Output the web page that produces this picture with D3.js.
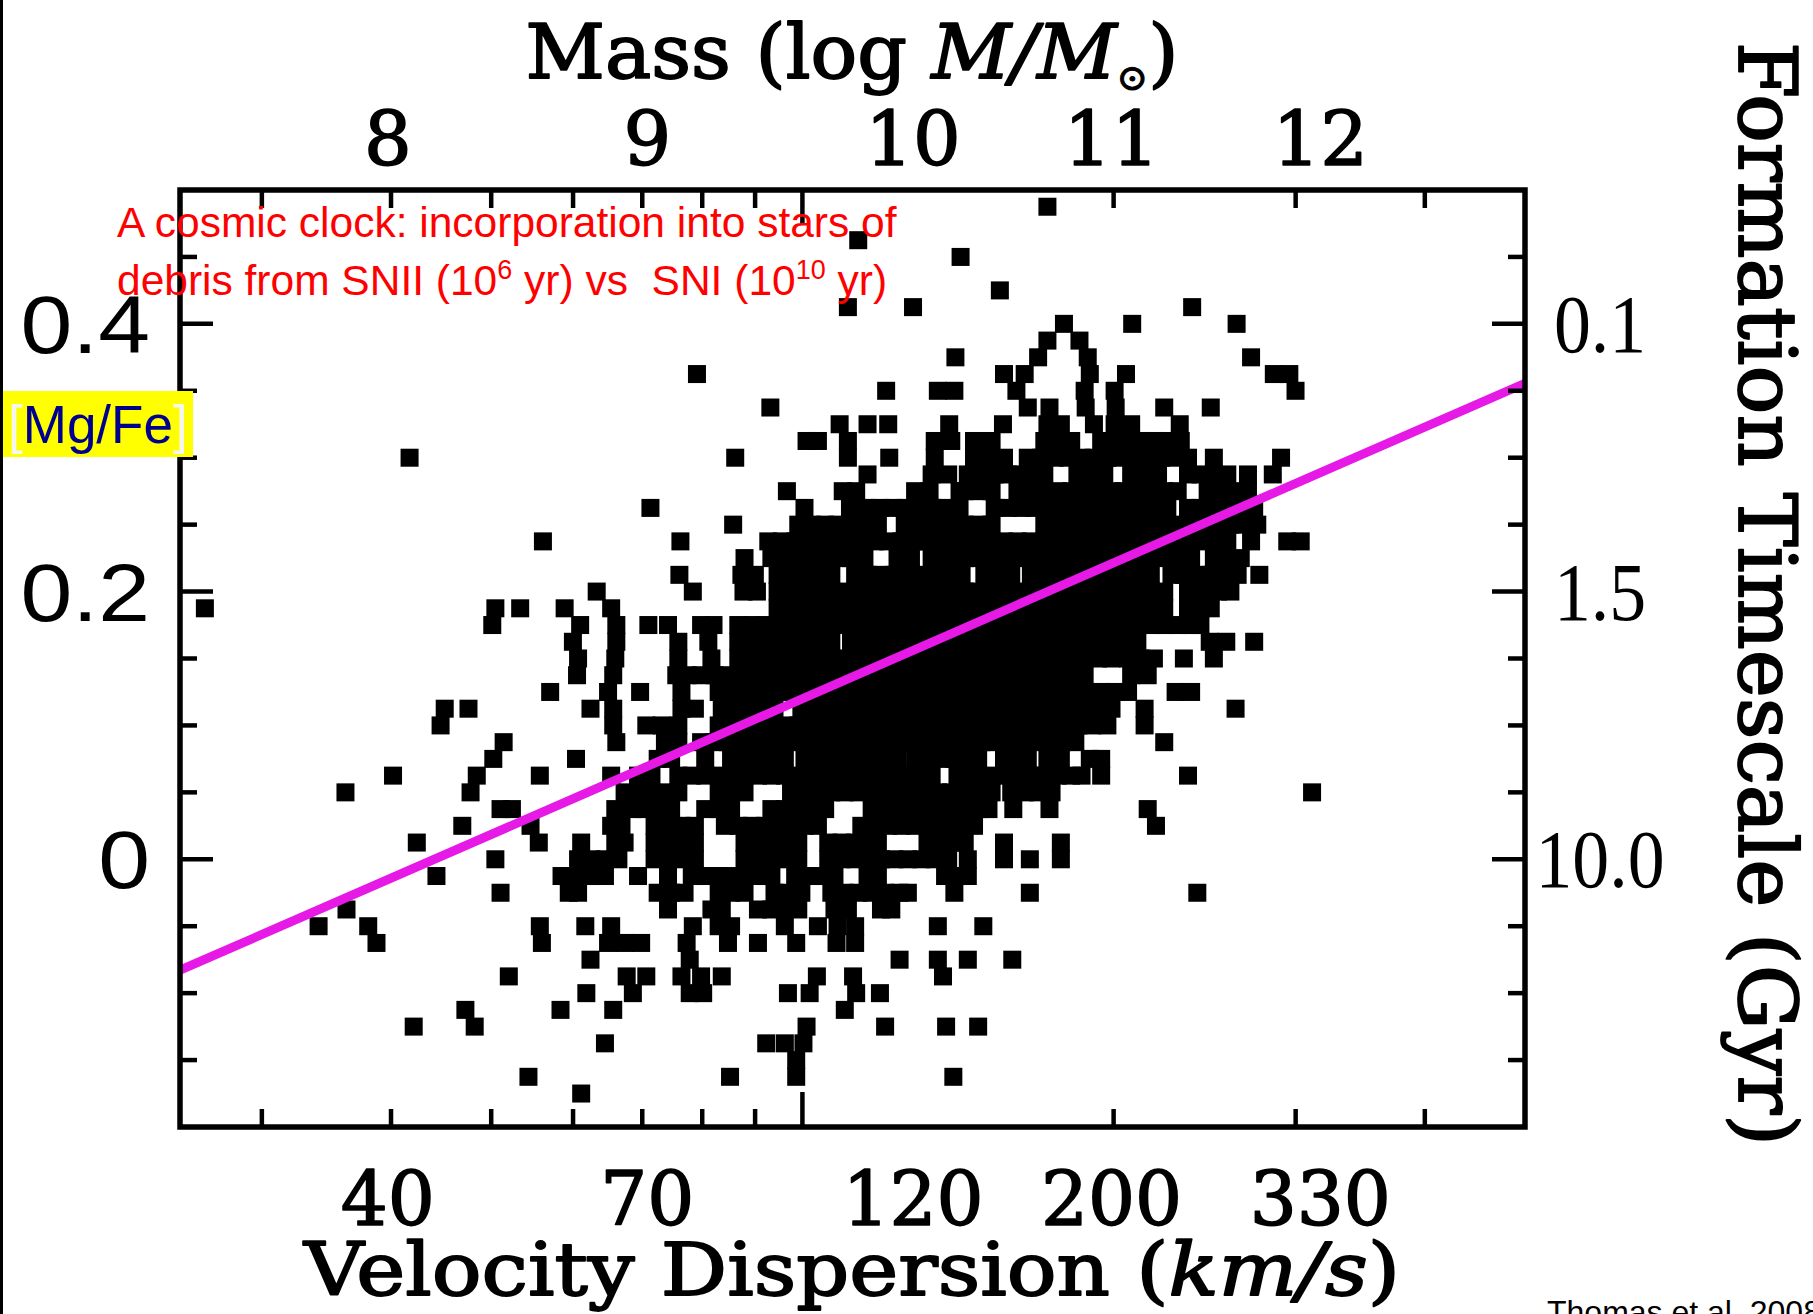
<!DOCTYPE html>
<html>
<head>
<meta charset="utf-8">
<script src="https://cdn.jsdelivr.net/npm/d3@7"></script>
<style>
  html, body { margin: 0; padding: 0; background: #fff; }
  svg { display: block; }
</style>
</head>
<body>
<svg id="chart" width="1813" height="1314"></svg>
<script>
// [Mg/Fe] level of each row of galaxies (the measurements come in 0.0125 steps)
const rowMgFe = [
  0.4875, 0.4625, 0.45, 0.425, 0.4125, 0.4, 0.3875, 0.375, 0.3625, 0.35,
  0.3375, 0.325, 0.3125, 0.3, 0.2875, 0.275, 0.2625, 0.25, 0.2375, 0.225,
  0.2125, 0.2, 0.1875, 0.175, 0.1625, 0.15, 0.1375, 0.125, 0.1125, 0.1,
  0.0875, 0.075, 0.0625, 0.05, 0.0375, 0.025, 0.0125, 0.0, -0.0125, -0.025,
  -0.0375, -0.05, -0.0625, -0.075, -0.0875, -0.1, -0.1125, -0.125, -0.1375, -0.15,
  -0.1625, -0.175
];

// log10 of the velocity dispersion (km/s) of every galaxy on that row
const rowLogSigma = [
  [2.237],
  [2.054],
  [2.153],
  [2.191],
  [2.044, 2.107, 2.377],
  [2.253, 2.319, 2.420],
  [2.237, 2.268],
  [2.148, 2.228, 2.276, 2.434],
  [1.898, 2.195, 2.215, 2.278, 2.313, 2.456, 2.471],
  [2.081, 2.131, 2.147, 2.207, 2.273, 2.302, 2.477],
  [1.969, 2.218, 2.239, 2.274, 2.303, 2.350, 2.395],
  [2.036, 2.063, 2.083, 2.142, 2.194, 2.237, 2.250, 2.282, 2.302, 2.318, 2.365],
  [2.004, 2.015, 2.044, 2.128, 2.144, 2.166, 2.183, 2.234, 2.247, 2.260, 2.289, 2.302, 2.314, 2.327, 2.340, 2.353, 2.366],
  [1.620, 1.935, 2.044, 2.084, 2.128, 2.166, 2.181, 2.195, 2.218, 2.231, 2.244, 2.257, 2.270, 2.282, 2.295, 2.308, 2.321, 2.334, 2.347, 2.360, 2.373, 2.398, 2.463],
  [2.063, 2.125, 2.141, 2.160, 2.173, 2.186, 2.199, 2.212, 2.224, 2.234, 2.266, 2.279, 2.292, 2.318, 2.331, 2.344, 2.373, 2.385, 2.398, 2.411, 2.431, 2.455],
  [1.985, 2.039, 2.052, 2.109, 2.123, 2.152, 2.157, 2.170, 2.183, 2.208, 2.221, 2.234, 2.247, 2.260, 2.273, 2.286, 2.299, 2.311, 2.324, 2.337, 2.350, 2.363, 2.392, 2.405, 2.418, 2.431],
  [1.853, 2.002, 2.046, 2.062, 2.075, 2.088, 2.100, 2.113, 2.126, 2.139, 2.152, 2.186, 2.199, 2.212, 2.224, 2.237, 2.250, 2.263, 2.276, 2.289, 2.302, 2.315, 2.327, 2.340, 2.353, 2.373, 2.385, 2.398, 2.411, 2.424, 2.437],
  [1.933, 1.996, 2.009, 2.022, 2.034, 2.047, 2.060, 2.073, 2.099, 2.112, 2.125, 2.138, 2.150, 2.157, 2.170, 2.183, 2.234, 2.247, 2.260, 2.273, 2.286, 2.299, 2.311, 2.324, 2.337, 2.350, 2.363, 2.376, 2.389, 2.402, 2.414, 2.427, 2.440],
  [1.749, 1.882, 1.967, 1.980, 1.993, 2.005, 2.018, 2.031, 2.044, 2.057, 2.070, 2.083, 2.096, 2.109, 2.121, 2.134, 2.147, 2.157, 2.170, 2.183, 2.195, 2.208, 2.221, 2.234, 2.247, 2.260, 2.273, 2.286, 2.299, 2.311, 2.324, 2.337, 2.350, 2.363, 2.376, 2.389, 2.402, 2.411, 2.434, 2.469, 2.482],
  [1.944, 1.970, 1.983, 1.996, 2.009, 2.022, 2.034, 2.047, 2.060, 2.092, 2.105, 2.125, 2.138, 2.150, 2.157, 2.170, 2.183, 2.195, 2.208, 2.221, 2.234, 2.247, 2.260, 2.273, 2.286, 2.299, 2.311, 2.324, 2.337, 2.350, 2.363, 2.376, 2.398, 2.411, 2.424],
  [1.881, 1.941, 1.954, 1.976, 1.989, 2.002, 2.015, 2.028, 2.051, 2.063, 2.076, 2.089, 2.102, 2.115, 2.128, 2.141, 2.154, 2.176, 2.189, 2.202, 2.221, 2.234, 2.247, 2.260, 2.273, 2.286, 2.299, 2.311, 2.324, 2.337, 2.357, 2.369, 2.382, 2.395, 2.408, 2.421, 2.442],
  [1.801, 1.894, 1.943, 1.956, 1.976, 1.989, 2.002, 2.015, 2.028, 2.041, 2.054, 2.067, 2.080, 2.092, 2.105, 2.118, 2.131, 2.144, 2.157, 2.170, 2.183, 2.195, 2.208, 2.221, 2.234, 2.247, 2.260, 2.273, 2.286, 2.299, 2.311, 2.324, 2.337, 2.350, 2.373, 2.385, 2.402, 2.414],
  [1.422, 1.703, 1.727, 1.770, 1.815, 1.976, 1.989, 2.002, 2.015, 2.028, 2.041, 2.054, 2.067, 2.080, 2.092, 2.105, 2.118, 2.131, 2.144, 2.157, 2.170, 2.183, 2.195, 2.208, 2.221, 2.234, 2.247, 2.260, 2.273, 2.286, 2.299, 2.311, 2.324, 2.337, 2.350, 2.373, 2.385, 2.395],
  [1.700, 1.785, 1.820, 1.851, 1.870, 1.902, 1.914, 1.938, 1.951, 1.964, 1.976, 1.989, 2.002, 2.015, 2.028, 2.041, 2.054, 2.067, 2.080, 2.092, 2.105, 2.118, 2.131, 2.144, 2.157, 2.170, 2.183, 2.195, 2.208, 2.221, 2.234, 2.247, 2.260, 2.273, 2.286, 2.299, 2.311, 2.324, 2.337, 2.350, 2.363, 2.376, 2.385],
  [1.778, 1.820, 1.880, 1.909, 1.938, 1.951, 1.964, 1.976, 1.989, 2.002, 2.015, 2.028, 2.047, 2.060, 2.073, 2.086, 2.099, 2.112, 2.125, 2.138, 2.150, 2.157, 2.170, 2.183, 2.195, 2.208, 2.221, 2.234, 2.247, 2.260, 2.273, 2.286, 2.299, 2.311, 2.324, 2.394, 2.410, 2.437],
  [1.783, 1.819, 1.880, 1.912, 1.938, 1.951, 1.964, 1.976, 1.989, 2.002, 2.015, 2.028, 2.041, 2.054, 2.067, 2.080, 2.092, 2.105, 2.118, 2.131, 2.144, 2.157, 2.170, 2.183, 2.195, 2.208, 2.221, 2.234, 2.247, 2.260, 2.273, 2.286, 2.299, 2.315, 2.327, 2.340, 2.369, 2.398],
  [1.782, 1.817, 1.878, 1.889, 1.902, 1.915, 1.928, 1.941, 1.954, 1.967, 1.980, 1.993, 2.005, 2.018, 2.031, 2.044, 2.057, 2.070, 2.083, 2.096, 2.109, 2.121, 2.134, 2.147, 2.157, 2.170, 2.183, 2.195, 2.208, 2.221, 2.234, 2.247, 2.260, 2.273, 2.318, 2.334],
  [1.756, 1.812, 1.843, 1.883, 1.919, 1.931, 1.944, 1.957, 1.970, 1.983, 1.996, 2.009, 2.022, 2.034, 2.047, 2.060, 2.073, 2.086, 2.099, 2.112, 2.125, 2.138, 2.150, 2.157, 2.170, 2.183, 2.195, 2.208, 2.221, 2.234, 2.247, 2.260, 2.276, 2.289, 2.302, 2.315, 2.361, 2.376],
  [1.654, 1.677, 1.795, 1.817, 1.883, 1.896, 1.922, 1.935, 1.948, 1.960, 1.973, 1.999, 2.012, 2.025, 2.038, 2.051, 2.063, 2.076, 2.089, 2.102, 2.115, 2.128, 2.141, 2.157, 2.170, 2.183, 2.195, 2.208, 2.221, 2.234, 2.247, 2.260, 2.273, 2.286, 2.299, 2.331, 2.419],
  [1.650, 1.817, 1.849, 1.864, 1.880, 1.919, 1.931, 1.944, 1.957, 1.970, 1.983, 1.996, 2.009, 2.022, 2.034, 2.047, 2.060, 2.073, 2.086, 2.099, 2.112, 2.125, 2.138, 2.150, 2.163, 2.176, 2.189, 2.202, 2.215, 2.228, 2.241, 2.254, 2.267, 2.280, 2.295, 2.331],
  [1.711, 1.820, 1.867, 1.880, 1.902, 1.915, 1.928, 1.941, 1.954, 1.967, 1.980, 1.993, 2.005, 2.018, 2.031, 2.044, 2.057, 2.070, 2.083, 2.096, 2.109, 2.121, 2.134, 2.147, 2.160, 2.173, 2.186, 2.199, 2.212, 2.225, 2.238, 2.251, 2.264, 2.350],
  [1.701, 1.781, 1.860, 1.873, 1.906, 1.931, 1.944, 1.957, 1.970, 1.983, 2.002, 2.015, 2.028, 2.041, 2.054, 2.067, 2.080, 2.092, 2.109, 2.121, 2.134, 2.147, 2.160, 2.170, 2.195, 2.208, 2.218, 2.237, 2.250, 2.278, 2.289],
  [1.604, 1.685, 1.746, 1.815, 1.841, 1.854, 1.880, 1.893, 1.906, 1.919, 1.931, 1.944, 1.957, 1.970, 1.983, 1.996, 2.009, 2.022, 2.034, 2.047, 2.060, 2.073, 2.086, 2.099, 2.112, 2.125, 2.150, 2.157, 2.170, 2.183, 2.195, 2.208, 2.221, 2.234, 2.247, 2.260, 2.270, 2.289, 2.373],
  [1.558, 1.679, 1.828, 1.841, 1.854, 1.867, 1.880, 1.919, 1.931, 1.944, 1.989, 2.002, 2.015, 2.028, 2.041, 2.054, 2.067, 2.080, 2.092, 2.105, 2.118, 2.131, 2.144, 2.157, 2.170, 2.183, 2.202, 2.215, 2.228, 2.241, 2.493],
  [1.708, 1.719, 1.819, 1.835, 1.848, 1.861, 1.873, 1.906, 1.919, 1.931, 1.970, 1.983, 1.996, 2.009, 2.022, 2.067, 2.080, 2.092, 2.105, 2.118, 2.131, 2.144, 2.157, 2.170, 2.180, 2.204, 2.239, 2.334],
  [1.671, 1.737, 1.815, 1.825, 1.857, 1.870, 1.883, 1.896, 1.925, 1.938, 1.951, 1.964, 1.976, 1.989, 2.002, 2.015, 2.057, 2.070, 2.083, 2.096, 2.109, 2.121, 2.134, 2.147, 2.157, 2.166, 2.342],
  [1.627, 1.745, 1.786, 1.819, 1.828, 1.857, 1.870, 1.883, 1.896, 1.944, 1.957, 1.970, 1.983, 1.996, 2.025, 2.038, 2.051, 2.063, 2.073, 2.121, 2.134, 2.147, 2.157, 2.195, 2.250],
  [1.703, 1.783, 1.796, 1.809, 1.822, 1.857, 1.870, 1.883, 1.896, 1.944, 1.957, 1.970, 1.983, 1.996, 2.025, 2.038, 2.051, 2.063, 2.076, 2.089, 2.102, 2.115, 2.128, 2.141, 2.160, 2.195, 2.220, 2.250],
  [1.646, 1.767, 1.783, 1.796, 1.809, 1.841, 1.870, 1.893, 1.906, 1.919, 1.931, 1.944, 1.957, 1.970, 1.993, 2.005, 2.018, 2.031, 2.063, 2.073, 2.138, 2.150, 2.160],
  [1.708, 1.774, 1.783, 1.860, 1.873, 1.886, 1.919, 1.931, 1.944, 1.973, 1.986, 1.999, 2.028, 2.041, 2.054, 2.067, 2.080, 2.094, 2.102, 2.147, 2.220, 2.382],
  [1.559, 1.870, 1.912, 1.922, 1.957, 1.970, 1.983, 1.996, 2.031, 2.044, 2.076, 2.086],
  [1.532, 1.580, 1.746, 1.790, 1.815, 1.894, 1.919, 1.931, 1.983, 2.015, 2.034, 2.051, 2.131, 2.175],
  [1.588, 1.748, 1.812, 1.828, 1.844, 1.888, 1.928, 1.957, 1.994, 2.033, 2.051],
  [1.795, 1.891, 2.094, 2.131, 2.160, 2.203],
  [1.716, 1.830, 1.849, 1.883, 1.902, 1.922, 2.014, 2.049, 2.136],
  [1.791, 1.836, 1.891, 1.904, 1.986, 2.007, 2.052, 2.075],
  [1.674, 1.766, 1.817, 2.041],
  [1.624, 1.683, 2.004, 2.080, 2.139, 2.170],
  [1.809, 1.965, 1.983, 2.001],
  [1.994],
  [1.735, 1.930, 1.994, 2.146],
  [1.786]
];

// Linear fit: [Mg/Fe] = intercept + slope * log(sigma)
const fitIntercept = -0.554;
const fitSlope = 0.337;

// Axis ranges: sigma in km/s, [Mg/Fe] in dex
const sigmaRange = [25, 500];
const mgfeRange = [-0.2, 0.5];

// Logarithmic tick marks along the velocity axis (km/s)
const sigmaMinorTicks = [30, 40, 50, 60, 70, 80, 90, 200, 300, 400];
const sigmaMajorTicks = [100];

// Tick marks along the [Mg/Fe] axis
const mgfeMinorTicks = [-0.15, -0.1, -0.05, 0.05, 0.1, 0.15, 0.25, 0.3, 0.35, 0.45];
const mgfeMajorTicks = [0, 0.2, 0.4];

// Labelled positions shared by the velocity (bottom) and mass (top) scales
const scaleLabelLogSigma = [1.599, 1.850, 2.107, 2.299, 2.501];
const velocityLabels = ["40", "70", "120", "200", "330"];
const massLabels = ["8", "9", "10", "11", "12"];

// Left [Mg/Fe] labels and right formation-timescale labels (Gyr)
const mgfeLabelValues = [0.4, 0.2, 0];
const mgfeLabels = ["0.4", "0.2", "0"];
const timescaleLabels = ["0.1", "1.5", "10.0"];

const svg = d3.select("#chart");
const W = 1813, H = 1314;

const x = d3.scaleLinear()
  .domain(sigmaRange.map(Math.log10))
  .range([180, 1525]);
const y = d3.scaleLinear()
  .domain(mgfeRange)
  .range([1127, 190]);

svg.append("rect").attr("width", W).attr("height", H).attr("fill", "#fff");

// Galaxies as filled squares
const points = rowMgFe.flatMap((m, i) => rowLogSigma[i].map(s => ({ logSigma: s, mgfe: m })));
const SQ = 18;
svg.append("g").attr("class", "points")
  .selectAll("rect")
  .data(points)
  .join("rect")
  .attr("x", d => x(d.logSigma) - SQ / 2)
  .attr("y", d => y(d.mgfe) - SQ / 2)
  .attr("width", SQ)
  .attr("height", SQ)
  .attr("fill", "#000");

// Fitted relation
const [lx0, lx1] = x.domain();
svg.append("line")
  .attr("x1", x(lx0)).attr("y1", y(fitIntercept + fitSlope * lx0))
  .attr("x2", x(lx1)).attr("y2", y(fitIntercept + fitSlope * lx1))
  .attr("stroke", "#e619e6")
  .attr("stroke-width", 9);

// Frame
const [xl, xr] = x.range();
const [yb, yt] = y.range();
svg.append("rect")
  .attr("x", xl).attr("y", yt)
  .attr("width", xr - xl).attr("height", yb - yt)
  .attr("fill", "none").attr("stroke", "#000").attr("stroke-width", 5.5);

// Inward tick marks on all four sides
const ticks = svg.append("g").attr("stroke", "#000").attr("stroke-width", 4.5);
const xTicks = [
  ...sigmaMinorTicks.map(v => ({ v, len: 18 })),
  ...sigmaMajorTicks.map(v => ({ v, len: 35 }))
];
ticks.selectAll(".xb").data(xTicks).join("line")
  .attr("x1", d => x(Math.log10(d.v))).attr("x2", d => x(Math.log10(d.v)))
  .attr("y1", yb).attr("y2", d => yb - d.len);
ticks.selectAll(".xt").data(xTicks).join("line")
  .attr("x1", d => x(Math.log10(d.v))).attr("x2", d => x(Math.log10(d.v)))
  .attr("y1", yt).attr("y2", d => yt + d.len);
const yTicks = [
  ...mgfeMinorTicks.map(v => ({ v, len: 17 })),
  ...mgfeMajorTicks.map(v => ({ v, len: 33 }))
];
ticks.selectAll(".yl").data(yTicks).join("line")
  .attr("y1", d => y(d.v)).attr("y2", d => y(d.v))
  .attr("x1", xl).attr("x2", d => xl + d.len);
ticks.selectAll(".yr").data(yTicks).join("line")
  .attr("y1", d => y(d.v)).attr("y2", d => y(d.v))
  .attr("x1", xr).attr("x2", d => xr - d.len);

// Serif captions are set a touch heavier than the regular face
const serif = "'DejaVu Serif', serif";
function heavy(sel, w) {
  return sel.attr("font-family", serif)
    .attr("fill", "#000").attr("stroke", "#000")
    .attr("stroke-width", w).attr("stroke-linejoin", "round");
}

// Top (mass) and bottom (velocity) labels
heavy(svg.append("g"), 1.6).selectAll("text").data(massLabels).join("text")
  .attr("x", (d, i) => x(scaleLabelLogSigma[i]))
  .attr("y", 165)
  .attr("text-anchor", "middle")
  .attr("font-size", 75)
  .text(d => d);
heavy(svg.append("g"), 1.6).selectAll("text").data(velocityLabels).join("text")
  .attr("x", (d, i) => x(scaleLabelLogSigma[i]))
  .attr("y", 1225)
  .attr("text-anchor", "middle")
  .attr("font-size", 74)
  .text(d => d);

// Left [Mg/Fe] labels (slightly widened sans-serif)
svg.append("g").selectAll("text").data(mgfeLabels).join("text")
  .attr("transform", (d, i) => `translate(150,${y(mgfeLabelValues[i]) + 29}) scale(1.15,1)`)
  .attr("text-anchor", "end")
  .attr("font-family", "'Liberation Sans', Arial, sans-serif").attr("font-size", 81)
  .text(d => d);

// Right timescale labels
svg.append("g").selectAll("text").data(timescaleLabels).join("text")
  .attr("transform", (d, i) => `translate(1600,${y(mgfeLabelValues[i]) + 28}) scale(0.9,1)`)
  .attr("text-anchor", "middle")
  .attr("font-family", "'Liberation Serif', 'Times New Roman', serif").attr("font-size", 82)
  .text(d => d);

// Top title: Mass (log M/M_sun)
const title = heavy(svg.append("text"), 1.8)
  .attr("x", 852).attr("y", 78)
  .attr("text-anchor", "middle")
  .attr("font-size", 74)
  .attr("textLength", 653).attr("lengthAdjust", "spacingAndGlyphs");
title.append("tspan").text("Mass (log ");
title.append("tspan").attr("font-style", "italic").text("M/M");
title.append("tspan").attr("font-size", 36).attr("stroke-width", 1).attr("dy", 12).text("\u2299");
title.append("tspan").attr("dy", -12).text(")");

// Bottom title
const xTitle = heavy(svg.append("text"), 1.8)
  .attr("x", 852).attr("y", 1295)
  .attr("text-anchor", "middle")
  .attr("font-size", 73)
  .attr("textLength", 1096).attr("lengthAdjust", "spacingAndGlyphs");
xTitle.append("tspan").text("Velocity Dispersion (");
xTitle.append("tspan").attr("font-style", "italic").text("km/s");
xTitle.append("tspan").text(")");

// Right title, rotated
heavy(svg.append("text"), 1.8)
  .attr("transform", "translate(1739,594) rotate(90)")
  .attr("text-anchor", "middle")
  .attr("font-size", 80)
  .attr("textLength", 1104).attr("lengthAdjust", "spacingAndGlyphs")
  .text("Formation Timescale (Gyr)");

// Red annotation
const note = svg.append("g")
  .attr("fill", "#ff0000")
  .attr("font-family", "'Liberation Sans', Arial, sans-serif")
  .attr("font-size", 42.5);
note.append("text").attr("x", 117).attr("y", 237)
  .text("A cosmic clock: incorporation into stars of");
const note2 = note.append("text").attr("x", 117).attr("y", 295).attr("xml:space", "preserve");
note2.append("tspan").text("debris from SNII (10");
note2.append("tspan").attr("font-size", 27).attr("dy", -16).text("6");
note2.append("tspan").attr("dy", 16).text(" yr) vs \u00a0SNI (10");
note2.append("tspan").attr("font-size", 27).attr("dy", -16).text("10");
note2.append("tspan").attr("dy", 16).text(" yr)");

// [Mg/Fe] axis name on a yellow box
svg.append("rect")
  .attr("x", 0).attr("y", 391).attr("width", 193).attr("height", 66)
  .attr("fill", "#ffff00");
const mg = svg.append("text")
  .attr("x", 8).attr("y", 443)
  .attr("font-family", "'Liberation Sans', Arial, sans-serif").attr("font-size", 53);
mg.append("tspan").attr("fill", "#f6f6f0").text("[");
mg.append("tspan").attr("fill", "#00008e").text("Mg/Fe");
mg.append("tspan").attr("fill", "#f6f6f0").text("]");

// Source
svg.append("text")
  .attr("x", 1547).attr("y", 1323)
  .attr("font-family", "'Liberation Sans', Arial, sans-serif").attr("font-size", 32)
  .attr("fill", "#000")
  .text("Thomas et al. 2008");

// Left page edge
svg.append("rect").attr("x", 0).attr("y", 0).attr("width", 3).attr("height", H).attr("fill", "#000");
</script>
</body>
</html>
